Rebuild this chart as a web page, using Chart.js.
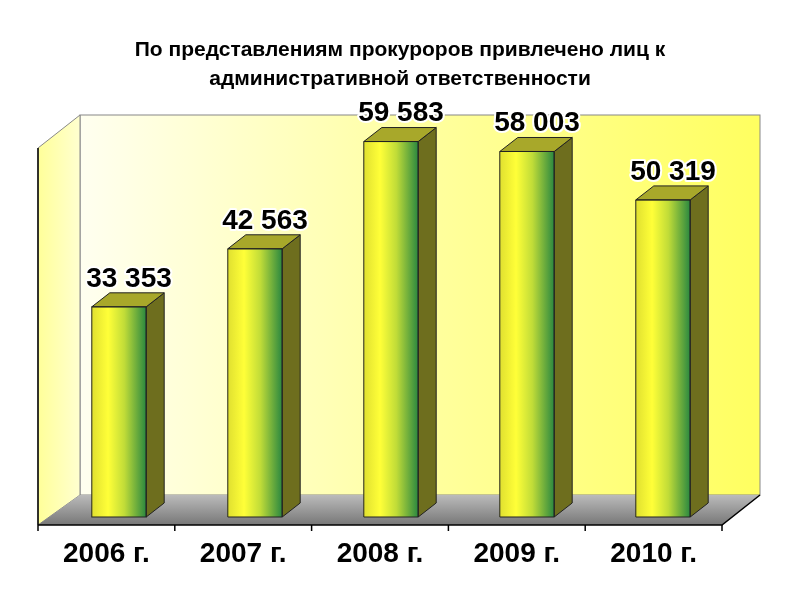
<!DOCTYPE html>
<html><head><meta charset="utf-8">
<script src="https://cdn.jsdelivr.net/npm/chart.js@4"></script>
<style>html,body{margin:0;background:#fff}#w{width:800px;height:600px}</style>
</head><body><div id="w"><canvas id="c"></canvas></div>
<script>
const categories = ["2006 г.", "2007 г.", "2008 г.", "2009 г.", "2010 г."];
const values = [33353, 42563, 59583, 58003, 50319];
const valueLabels = ["33 353", "42 563", "59 583", "58 003", "50 319"];
const titleLines = ["По представлениям прокуроров привлечено лиц к", "административной ответственности"];
const DX = 18, DY = -14;

const scene = {
  id: 'scene',
  beforeDatasetsDraw(chart) {
    const ctx = chart.ctx, a = chart.chartArea;
    const fl = 38, fr = a.right - 9, fb = 525, bl = 80, br = 760, bb = 495, top = 115;
    ctx.save();
    let g = ctx.createLinearGradient(bl, 0, br, 0);
    g.addColorStop(0, '#fffff0'); g.addColorStop(0.5, '#ffffa0'); g.addColorStop(1, '#ffff60');
    ctx.fillStyle = g; ctx.strokeStyle = '#888'; ctx.lineWidth = 1;
    ctx.fillRect(bl, top, br - bl, bb - top); ctx.strokeRect(bl, top, br - bl, bb - top);
    g = ctx.createLinearGradient(fl, 0, bl, 0);
    g.addColorStop(0, '#ffff99'); g.addColorStop(1, '#ffffd0');
    ctx.fillStyle = g;
    ctx.beginPath(); ctx.moveTo(fl, 148); ctx.lineTo(bl, top); ctx.lineTo(bl, bb); ctx.lineTo(fl, fb); ctx.closePath(); ctx.fill(); ctx.stroke();
    g = ctx.createLinearGradient(0, bb, 0, fb);
    g.addColorStop(0, '#bbbbbb'); g.addColorStop(1, '#777777');
    ctx.fillStyle = g;
    ctx.beginPath(); ctx.moveTo(bl, bb); ctx.lineTo(br, bb); ctx.lineTo(fr, fb); ctx.lineTo(fl, fb); ctx.closePath(); ctx.fill();
    ctx.strokeStyle = '#000'; ctx.lineWidth = 1.5;
    ctx.beginPath(); ctx.moveTo(fl, fb); ctx.lineTo(fr, fb); ctx.lineTo(br, bb); ctx.stroke();
    ctx.beginPath(); ctx.moveTo(fl, fb); ctx.lineTo(fl, 148); ctx.stroke();
    for (let i = 0; i <= categories.length; i++) {
      const x = fl + (fr - fl) * i / categories.length;
      ctx.beginPath(); ctx.moveTo(x, fb); ctx.lineTo(x, fb + 6); ctx.stroke();
    }
    ctx.fillStyle = '#000'; ctx.font = 'bold 28px "Liberation Sans", Arial';
    ctx.textAlign = 'center'; ctx.textBaseline = 'middle';
    categories.forEach((c, i) => ctx.fillText(c, fl + (fr - fl) * (i + 0.5) / categories.length, 554));
    ctx.font = 'bold 21px "Liberation Sans", Arial';
    ctx.fillText(titleLines[0], 400, 50); ctx.fillText(titleLines[1], 400, 79);
    ctx.restore();
  },
  afterDatasetsDraw(chart) {
    const ctx = chart.ctx, meta = chart.getDatasetMeta(0);
    ctx.save();
    meta.data.forEach((b, i) => {
      const l = b.x - b.width / 2, r = b.x + b.width / 2, t = b.y, bt = b.base;
      const g = ctx.createLinearGradient(l, 0, r, 0);
      g.addColorStop(0, '#e0e030'); g.addColorStop(0.3, '#ffff38'); g.addColorStop(0.6, '#c0dc38'); g.addColorStop(1, '#2a8840');
      ctx.fillStyle = g; ctx.fillRect(l, t, r - l, bt - t);
      ctx.fillStyle = '#6e6e1e'; ctx.strokeStyle = '#222'; ctx.lineWidth = 1;
      ctx.beginPath(); ctx.moveTo(r, t); ctx.lineTo(r + DX, t + DY); ctx.lineTo(r + DX, bt + DY); ctx.lineTo(r, bt); ctx.closePath(); ctx.fill(); ctx.stroke();
      ctx.fillStyle = '#a8a82a';
      ctx.beginPath(); ctx.moveTo(l, t); ctx.lineTo(l + DX, t + DY); ctx.lineTo(r + DX, t + DY); ctx.lineTo(r, t); ctx.closePath(); ctx.fill(); ctx.stroke();
      ctx.strokeRect(l, t, r - l, bt - t);
      ctx.font = 'bold 28px "Liberation Sans", Arial';
      ctx.textAlign = 'center'; ctx.textBaseline = 'middle';
      ctx.lineWidth = 4; ctx.strokeStyle = '#fff'; ctx.lineJoin = 'round';
      ctx.strokeText(valueLabels[i], b.x + 10, t - 28);
      ctx.fillStyle = '#000'; ctx.fillText(valueLabels[i], b.x + 10, t - 28);
    });
    ctx.restore();
  }
};

new Chart(document.getElementById('c'), {
  type: 'bar',
  data: { labels: categories, datasets: [{ data: values, borderWidth: 0,
    barPercentage: 0.4, categoryPercentage: 1, backgroundColor: '#e8e830' }] },
  options: {
    responsive: true, maintainAspectRatio: false, animation: false,
    layout: { padding: { top: 120, bottom: 83, left: 51, right: 69 } },
    plugins: { legend: { display: false }, tooltip: { enabled: false } },
    scales: { x: { display: false }, y: { display: false, min: 0, max: 63000 } }
  },
  plugins: [scene]
});
</script></body></html>
